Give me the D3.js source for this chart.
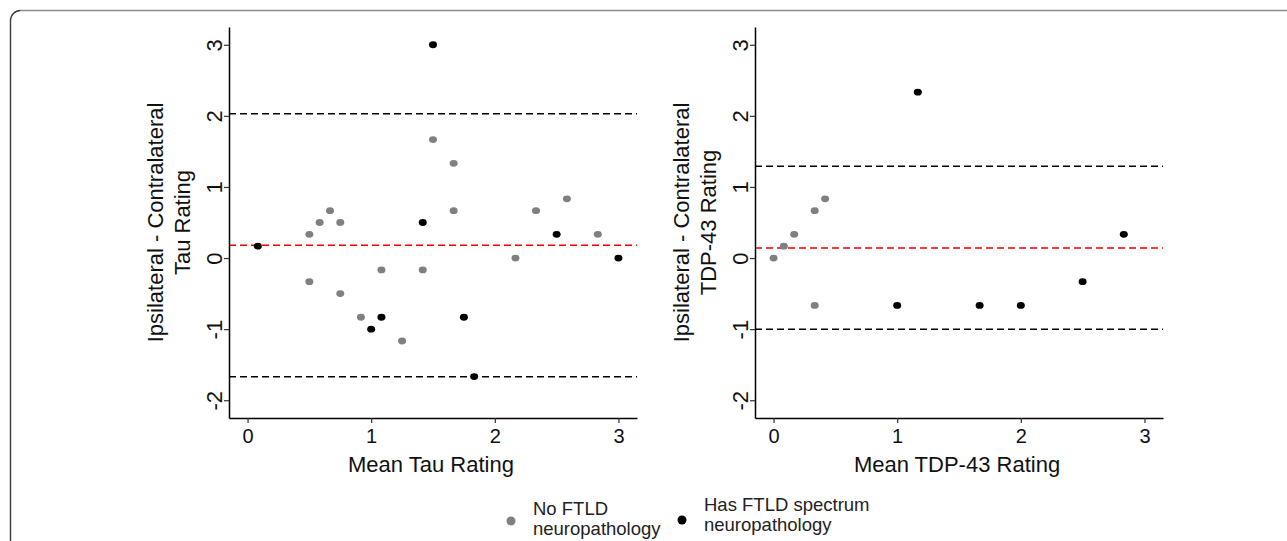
<!DOCTYPE html>
<html>
<head>
<meta charset="utf-8">
<script src="https://cdn.jsdelivr.net/npm/d3@7"></script>
<style>
  body { margin: 0; background: #fff; }
  svg { display: block; font-family: "Liberation Sans", Arial, sans-serif; }
</style>
</head>
<body>
<div id="chart"></div>
<script>
// Data ---------------------------------------------------
// Tau panel: mean rating vs. ipsilateral - contralateral difference
const tauNoX = [0.5, 0.583, 0.667, 0.75, 0.5, 0.75, 0.917, 1.083, 1.25, 1.417, 1.5, 1.667, 1.667, 2.167, 2.333, 2.583, 2.833]
const tauNoY = [0.333, 0.5, 0.667, 0.5, -0.333, -0.5, -0.833, -0.167, -1.167, -0.167, 1.667, 1.333, 0.667, 0, 0.667, 0.833, 0.333]
const tauHasX = [0.083, 1.0, 1.083, 1.417, 1.5, 1.75, 1.833, 2.5, 3.0]
const tauHasY = [0.167, -1.0, -0.833, 0.5, 3.0, -0.833, -1.667, 0.333, 0]
const tauLimits = [2.03, -1.67]
const tauMean = 0.18

// TDP-43 panel
const tdpNoX = [0, 0.083, 0.167, 0.333, 0.417, 0.333]
const tdpNoY = [0, 0.167, 0.333, 0.667, 0.833, -0.667]
const tdpHasX = [1.0, 1.167, 1.667, 2.0, 2.5, 2.833]
const tdpHasY = [-0.667, 2.333, -0.667, -0.667, -0.333, 0.333]
const tdpLimits = [1.29, -1.0]
const tdpMean = 0.14

const xTicks = [0, 1, 2, 3]
const yTicks = [-2, -1, 0, 1, 2, 3]
const legendLabels = [["No FTLD", "neuropathology"], ["Has FTLD spectrum", "neuropathology"]]

// consts -------------------------------------------------
const W = 1287, H = 541
const COL = {NO: "#808080", HAS: "#000000"}
const PANEL = {TOP: 27, BOTTOM: 418, WIDTH: 408}

const svg = d3.select("#chart").append("svg")
    .attr("width", W)
    .attr("height", H)

// frame with rounded top-left corner
svg.append("path")
    .attr("d", "M20.5,10.5 L1300,10.5")
    .attr("fill", "none")
    .attr("stroke", "#8c8c8c")
    .attr("stroke-width", 1.6)
svg.append("path")
    .attr("d", "M10.5,545 L10.5,20.5 A10,10 0 0 1 20.5,10.5")
    .attr("fill", "none")
    .attr("stroke", "#3c3c3c")
    .attr("stroke-width", 1.4)

const yScale = d3.scaleLinear()
    .domain([-2.25, 3.25])
    .range([PANEL.BOTTOM, PANEL.TOP])

// plain hyphen for negatives, as in the original
const fmt = d => String(d)

function drawPanel(left, noX, noY, hasX, hasY, limits, mean, title2, xTitle){
    const xScale = d3.scaleLinear()
        .domain([-0.15, 3.15])
        .range([0, PANEL.WIDTH])

    const g = svg.append("g")
        .attr("transform", `translate(${left},0)`)

    // limits of agreement
    g.selectAll(".limit")
        .data(limits)
        .join("line")
        .attr("x1", 0)
        .attr("x2", PANEL.WIDTH)
        .attr("y1", d => yScale(d))
        .attr("y2", d => yScale(d))
        .attr("stroke", "#000")
        .attr("stroke-width", 1.5)
        .attr("stroke-dasharray", "7,4")

    g.append("line")
        .attr("x1", 0)
        .attr("x2", PANEL.WIDTH)
        .attr("y1", yScale(mean))
        .attr("y2", yScale(mean))
        .attr("stroke", "#f00000")
        .attr("stroke-width", 1.5)
        .attr("stroke-dasharray", "7,4")

    // points
    const pts = noX.map((x, i) => ({x, y: noY[i], c: COL.NO}))
        .concat(hasX.map((x, i) => ({x, y: hasY[i], c: COL.HAS})))
    g.selectAll(".pt")
        .data(pts)
        .join("ellipse")
        .attr("cx", d => xScale(d.x))
        .attr("cy", d => yScale(d.y))
        .attr("rx", 4)
        .attr("ry", 3.4)
        .attr("fill", d => d.c)

    // axes
    const xAxis = g.append("g")
        .attr("transform", `translate(0,${PANEL.BOTTOM})`)
        .call(d3.axisBottom(xScale).tickValues(xTicks).tickFormat(fmt).tickSize(5).tickSizeOuter(0))
    xAxis.selectAll("text")
        .attr("y", 25)
        .attr("dy", 0)
        .attr("font-size", 20)
        .attr("fill", "#111")

    const yAxis = g.append("g")
        .call(d3.axisLeft(yScale).tickValues(yTicks).tickFormat(fmt).tickSize(5).tickSizeOuter(0))
    yAxis.selectAll("text")
        .attr("transform", "rotate(-90)")
        .attr("x", 0)
        .attr("y", -7)
        .attr("dy", 0)
        .attr("text-anchor", "middle")
        .attr("font-size", 22)
        .attr("fill", "#111")

    g.selectAll(".domain")
        .attr("stroke", "#000")
        .attr("stroke-width", 1.5)
    g.selectAll(".tick line")
        .attr("stroke", "#333")
        .attr("stroke-width", 1.2)

    // titles
    const cy = (PANEL.TOP + PANEL.BOTTOM) / 2
    const yTitle = g.append("text")
        .attr("transform", `translate(-66,${cy}) rotate(-90)`)
        .attr("text-anchor", "middle")
        .attr("font-size", 22)
        .attr("fill", "#111")
    yTitle.append("tspan").attr("x", 0).attr("y", 0).text("Ipsilateral - Contralateral")
    yTitle.append("tspan").attr("x", 0).attr("y", 27).text(title2)

    g.append("text")
        .attr("x", PANEL.WIDTH / 2 - 2)
        .attr("y", 472)
        .attr("text-anchor", "middle")
        .attr("font-size", 22)
        .attr("fill", "#111")
        .text(xTitle)
}

drawPanel(229, tauNoX, tauNoY, tauHasX, tauHasY, tauLimits, tauMean, "Tau Rating", "Mean Tau Rating")
drawPanel(755, tdpNoX, tdpNoY, tdpHasX, tdpHasY, tdpLimits, tdpMean, "TDP-43 Rating", "Mean TDP-43 Rating")

// Legend ----------------------------------------------
const legend = [
    {dot: [511, 521], tx: 533, ty: 515, c: COL.NO, lines: legendLabels[0]},
    {dot: [682, 520], tx: 704, ty: 511, c: COL.HAS, lines: legendLabels[1]}
]
legend.forEach(l => {
    svg.append("circle")
        .attr("cx", l.dot[0])
        .attr("cy", l.dot[1])
        .attr("r", 4.5)
        .attr("fill", l.c)
    const t = svg.append("text")
        .attr("font-size", 18.5)
        .attr("fill", "#222")
    l.lines.forEach((s, i) => {
        t.append("tspan").attr("x", l.tx).attr("y", l.ty + i * 20).text(s)
    })
})
</script>
</body>
</html>
